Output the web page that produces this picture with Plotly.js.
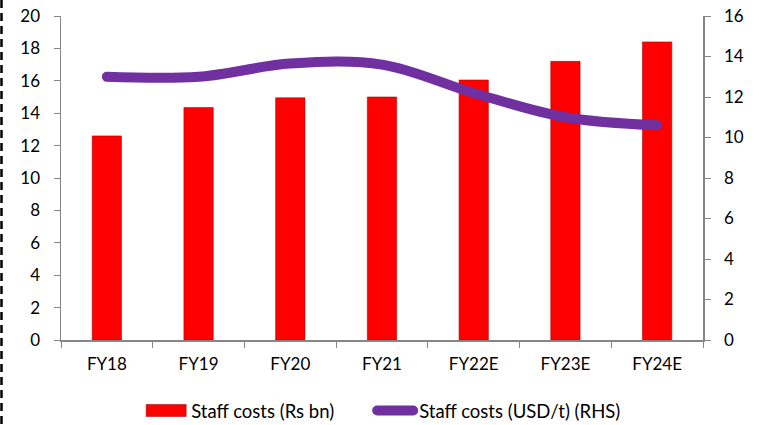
<!DOCTYPE html>
<html>
<head>
<meta charset="utf-8">
<script src="https://cdn.plot.ly/plotly-3.0.1.min.js"></script>
<style>
  html, body { margin: 0; padding: 0; background: #fff; }
  #chart { width: 759px; height: 425px; position: relative; }
  #border { position: absolute; left: 0; top: 0; width: 4px; height: 425px; pointer-events: none; }
  .scatterlayer path.js-line { stroke-linecap: round; }
  .legendlines path { stroke-linecap: round; d: path("M8,0h36"); }
  .legendpoints path { d: path("M20,6H-20V-6H20Z"); }
  .legend .scrollbox { clip-path: none !important; }
</style>
</head>
<body>
<div id="chart"></div>
<svg id="border" width="4" height="425"><line x1="1.5" y1="0" x2="1.5" y2="425" stroke="#000" stroke-width="2.5" stroke-dasharray="8,5"/></svg>
<script>
const categories = ["FY18", "FY19", "FY20", "FY21", "FY22E", "FY23E", "FY24E"];
const staffCostsRsBn = [12.6, 14.35, 14.95, 15.0, 16.05, 17.2, 18.4];
const staffCostsUsdT = [13.0, 13.0, 13.65, 13.6, 12.2, 11.0, 10.6];
const leftTicks = [0, 2, 4, 6, 8, 10, 12, 14, 16, 18, 20];
const rightTicks = [0, 2, 4, 6, 8, 10, 12, 14, 16];

const tickFont = { family: "Lato, 'Open Sans', sans-serif", size: 17, color: "#000" };
const legendFont = { family: "Lato, 'Open Sans', sans-serif", size: 18.5, color: "#000" };

const traces = [
  {
    type: "bar",
    name: "Staff costs (Rs bn)",
    x: categories,
    y: staffCostsRsBn,
    width: 0.32,
    marker: { color: "#ff0000", line: { color: "rgba(170,0,0,0.55)", width: 1 } },
    yaxis: "y"
  },
  {
    type: "scatter",
    mode: "lines",
    name: "Staff costs (USD/t) (RHS)",
    x: categories,
    y: staffCostsUsdT,
    line: { color: "#7030a0", width: 10, shape: "spline", smoothing: 1 },
    yaxis: "y2"
  }
];

const layout = {
  width: 759,
  height: 425,
  margin: { l: 61, r: 56, t: 16, b: 85, autoexpand: false },
  paper_bgcolor: "#fff",
  plot_bgcolor: "#fff",
  font: tickFont,
  showlegend: true,
  legend: {
    orientation: "h",
    x: 0.48, xanchor: "center",
    y: -0.219, yanchor: "middle",
    font: legendFont,
    itemwidth: 40,
    entrywidth: 173,
    entrywidthmode: "pixels",
    traceorder: "normal"
  },
  xaxis: {
    type: "category",
    showline: true,
    linecolor: "#868686",
    linewidth: 1.5,
    ticks: "outside",
    tickson: "boundaries",
    ticklen: 6,
    tickcolor: "#868686",
    showgrid: false,
    ticklabelstandoff: 8,
    tickfont: tickFont
  },
  yaxis: {
    range: [0, 20],
    tickvals: leftTicks,
    showline: true,
    linecolor: "#868686",
    linewidth: 1.5,
    ticks: "outside",
    ticklen: 6,
    tickcolor: "#868686",
    showgrid: false,
    zeroline: false,
    ticklabelstandoff: 10,
    tickfont: tickFont
  },
  yaxis2: {
    range: [0, 16],
    tickvals: rightTicks,
    overlaying: "y",
    side: "right",
    showline: true,
    linecolor: "#868686",
    linewidth: 1.5,
    ticks: "outside",
    ticklen: 6,
    tickcolor: "#868686",
    showgrid: false,
    zeroline: false,
    ticklabelstandoff: 10,
    tickfont: tickFont
  }
};

Plotly.newPlot("chart", traces, layout, { displayModeBar: false, staticPlot: true });
</script>
</body>
</html>
